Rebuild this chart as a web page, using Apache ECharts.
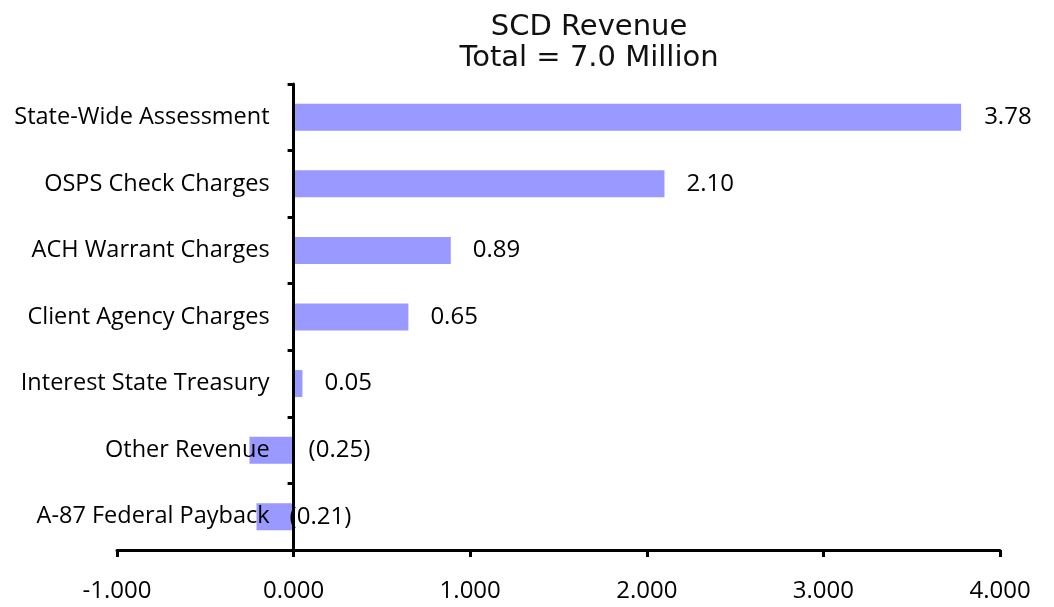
<!DOCTYPE html>
<html>
<head>
<meta charset="utf-8">
<script src="https://cdn.jsdelivr.net/npm/echarts@6/dist/echarts.min.js"></script>
<style>html,body{margin:0;padding:0;background:#fff}#c{width:1054px;height:607px}</style>
</head>
<body>
<div id="c"></div>
<script>
const categories = ['State-Wide Assessment','OSPS Check Charges','ACH Warrant Charges','Client Agency Charges','Interest State Treasury','Other Revenue','A-87 Federal Payback'];
const values = [3.78, 2.10, 0.89, 0.65, 0.05, -0.25, -0.21];
const xTicks = [-1, 0, 1, 2, 3, 4];
const titleLines = ['SCD Revenue', 'Total = 7.0 Million'];

const labelDist = [23, 22, 22, 22, 22, 15, -4];
const gridLeft = 117, gridRight = 54;
const gridW = 1054 - gridLeft - gridRight;
const xMin = xTicks[0], xMax = xTicks[xTicks.length-1];
const zeroOffset = -gridW * (0 - xMin) / (xMax - xMin);
const chart = echarts.init(document.getElementById('c'));
const fmt = v => v < 0 ? '(' + Math.abs(v).toFixed(2) + ')' : v.toFixed(2);
chart.setOption({
  animation: false,
  title: {
    text: titleLines.join('\n'),
    left: 584, top: 7, textAlign: 'center',
    textStyle: {fontFamily: 'DejaVu Sans', fontSize: 29, fontWeight: 'normal', color: '#111', lineHeight: 31}
  },
  grid: {left: gridLeft, right: gridRight, top: 84, bottom: 57, containLabel: false, outerBoundsMode: 'none'},
  xAxis: {
    type: 'value', min: xMin, max: xMax, interval: 1,
    splitLine: {show: false},
    axisLine: {show: true, onZero: false, lineStyle: {color: '#000', width: 3}},
    axisTick: {show: true, length: 7, lineStyle: {color: '#000', width: 3}},
    axisLabel: {formatter: v => v.toFixed(3), color: '#000', fontFamily: 'Open Sans', fontSize: 24, margin: 29}
  },
  yAxis: {
    type: 'category', data: categories, inverse: true, z: 5,
    offset: zeroOffset,
    axisLine: {show: true, onZero: false, lineStyle: {color: '#000', width: 3}},
    axisTick: {show: true, length: 6, alignWithLabel: false, lineStyle: {color: '#000', width: 3}},
    axisLabel: {color: '#000', fontFamily: 'Open Sans', fontSize: 23.5, margin: 24}
  },
  series: [{
    type: 'bar', barWidth: 27,
    itemStyle: {color: '#9999FF'},
    data: values.map((v, i) => ({value: v, label: {distance: labelDist[i]}})),
    label: {show: true, position: 'right', formatter: p => fmt(p.value), color: '#000', fontFamily: 'Open Sans', fontSize: 24}
  }]
});
</script>
</body>
</html>
